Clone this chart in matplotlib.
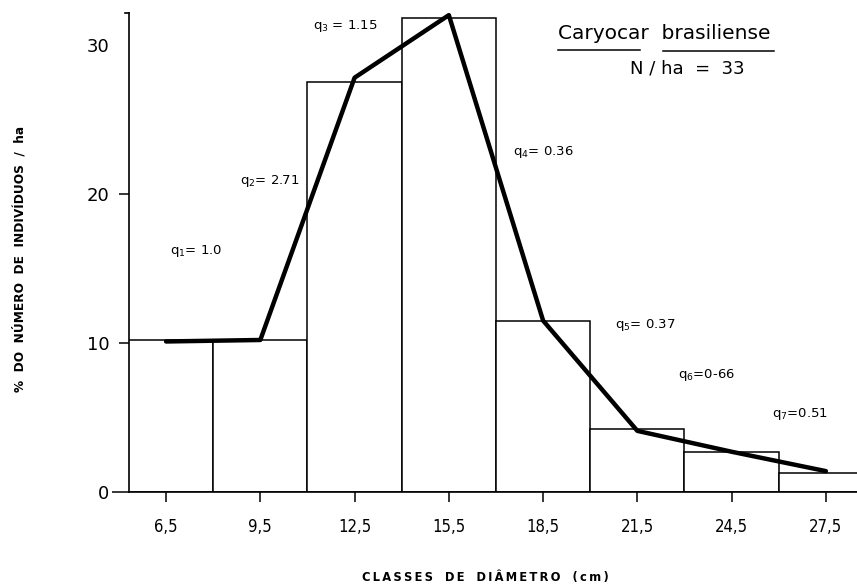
import matplotlib.pyplot as plt
from matplotlib.lines import Line2D

# diameter classes (cm) and share of individuals per hectare (%)
class_centers = [6.5, 9.5, 12.5, 15.5, 18.5, 21.5, 24.5, 27.5]
class_width = 3.0
bar_heights = [10.2, 10.2, 27.5, 31.8, 11.5, 4.2, 2.7, 1.3]
curve_values = [10.1, 10.2, 27.8, 32.0, 11.5, 4.1, 2.7, 1.4]
tick_labels = ['6,5', '9,5', '12,5', '15,5', '18,5', '21,5', '24,5', '27,5']

# quotients between consecutive classes
q_labels = [r'$\mathregular{q_1}$= 1.0', r'$\mathregular{q_2}$= 2.71',
            r'$\mathregular{q_3}$ = 1.15', r'$\mathregular{q_4}$= 0.36',
            r'$\mathregular{q_5}$= 0.37', r'$\mathregular{q_6}$=0-66',
            r'$\mathregular{q_7}$=0.51']
q_x = [6.63, 8.85, 11.18, 17.54, 20.79, 22.79, 25.78]
q_y = [16.2, 20.9, 31.3, 22.8, 11.2, 7.85, 5.2]

plt.rcParams['font.family'] = 'DejaVu Sans'
plt.rcParams['mathtext.fontset'] = 'dejavusans'


def spaced(s):
    # stretch the lettering with thin spaces
    return '\u2009'.join(s)


fig = plt.figure(figsize=(8.57, 5.85), dpi=100)
ax = fig.add_axes([0.1505, 0.159, 0.8495, 0.819])

ax.bar(class_centers, bar_heights, width=class_width, color='white',
       edgecolor='black', linewidth=1.1, zorder=2)
ax.plot(class_centers, curve_values, color='black', linewidth=3.2,
        solid_joinstyle='round', solid_capstyle='round', zorder=3)

ax.set_xlim(5.32, 28.49)
ax.set_ylim(0, 32.15)

for s in ['top', 'right']:
    ax.spines[s].set_visible(False)
ax.spines['left'].set_linewidth(1.2)
ax.spines['bottom'].set_linewidth(1.2)

ax.set_xticks(class_centers)
ax.set_xticklabels(tick_labels, fontsize=12, fontstretch='condensed')
ax.tick_params(axis='x', direction='out', length=7, width=1.1, pad=12)
ax.set_yticks([0, 10, 20, 30])
ax.set_yticklabels(['0', '10', '20', '30'], fontsize=13)
ax.tick_params(axis='y', direction='out', length=12, width=1.1, pad=2)
ax.yaxis.get_major_ticks()[3].tick1line.set_visible(False)
ax.yaxis.get_major_ticks()[1].tick1line.set_markersize(7)
ax.yaxis.get_major_ticks()[2].tick1line.set_markersize(7)

# small cap at the top of the y axis
ax.plot([-0.006, 0.0], [1, 1], transform=ax.transAxes, color='black',
        linewidth=1.2, clip_on=False)

fig.text(20 / 857, 1 - 259 / 585, '%  DO  NÚMERO  DE  INDIVÍDUOS  /  ha',
         fontsize=8.7, fontweight='bold', rotation=90, ha='center', va='center')
fig.text(485 / 857, 1 - 578 / 585,
         spaced('CLASSES') + '   ' + spaced('DE') + '   ' + spaced('DIÂMETRO')
         + '   ' + spaced('(cm)'),
         fontsize=8.3, fontweight='bold', ha='center', va='center')

for lbl, x, y in zip(q_labels, q_x, q_y):
    ax.text(x, y, lbl, fontsize=9.5, ha='left', va='center')

fig.text(0.651, 0.943, 'Caryocar  brasiliense', fontsize=14.5, ha='left',
         va='center')
fig.text(0.735, 0.883, 'N / ha  =  33', fontsize=13, ha='left', va='center')
fig.add_artist(Line2D([558 / 857, 640 / 857], [1 - 50 / 585] * 2,
                      transform=fig.transFigure, color='black', linewidth=1.1))
fig.add_artist(Line2D([663 / 857, 774 / 857], [1 - 51 / 585] * 2,
                      transform=fig.transFigure, color='black', linewidth=1.1))

fig.savefig('out.png', dpi=100)
